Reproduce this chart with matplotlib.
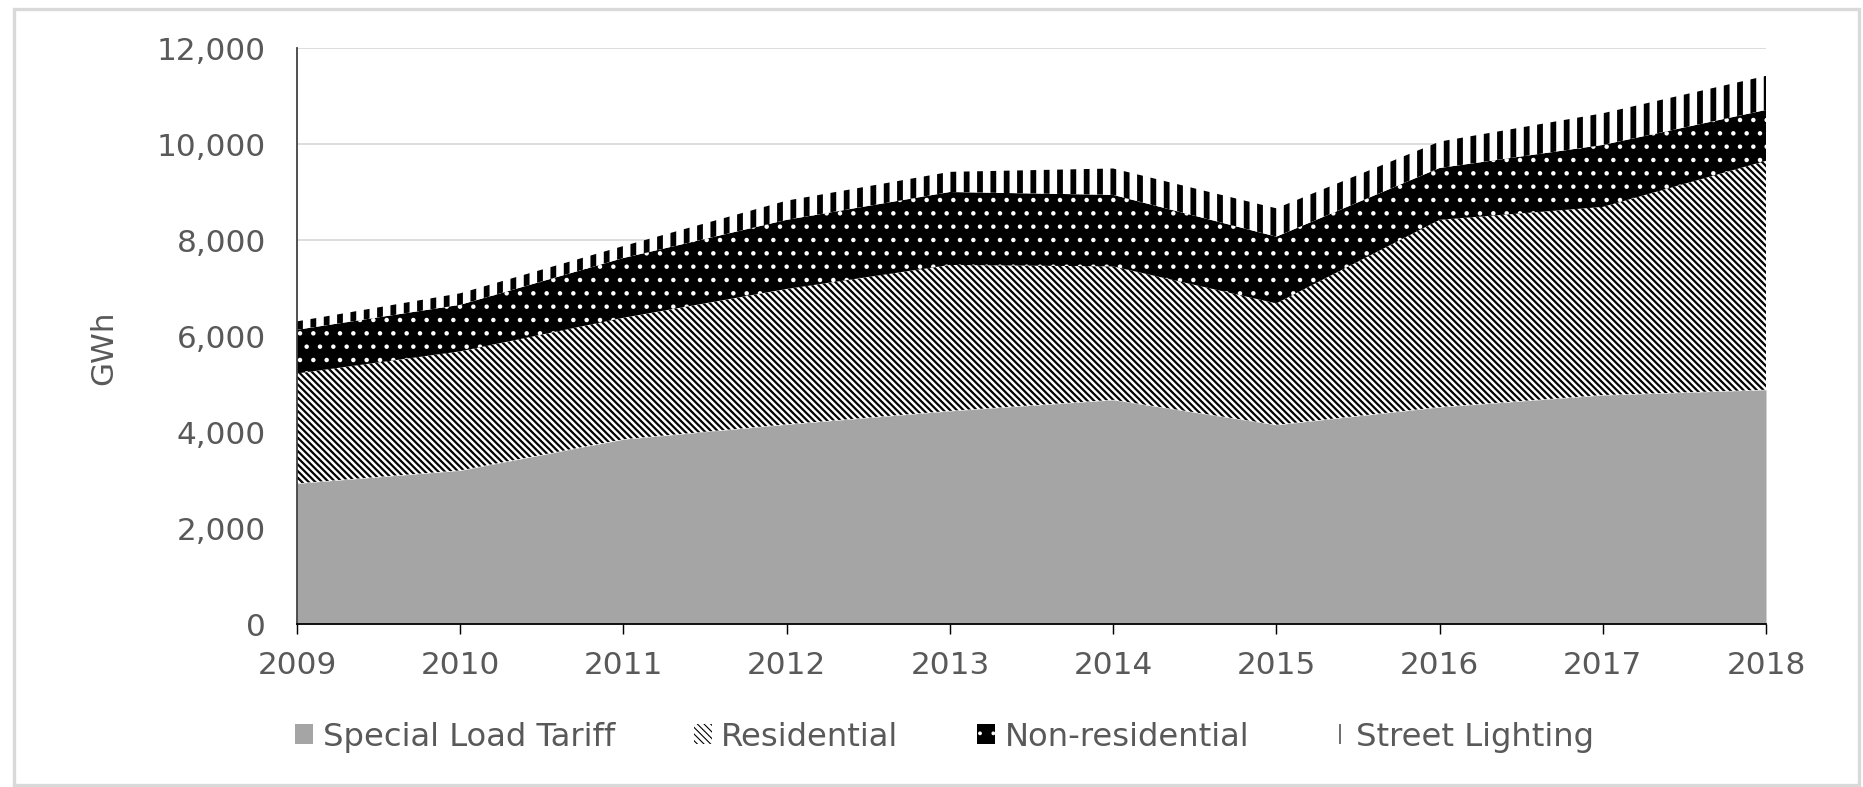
import matplotlib
matplotlib.use("Agg")
import matplotlib.pyplot as plt
from matplotlib.patches import Patch, Rectangle
import numpy as np

years = [2009, 2010, 2011, 2012, 2013, 2014, 2015, 2016, 2017, 2018]
special_load = [2930, 3200, 3850, 4160, 4440, 4670, 4150, 4520, 4770, 4880]
residential = [2290, 2480, 2530, 2820, 3040, 2780, 2530, 3900, 3920, 4770]
non_residential = [910, 970, 1245, 1440, 1520, 1490, 1390, 1080, 1290, 1060]
street_lighting = [175, 240, 250, 400, 420, 550, 590, 550, 660, 710]
series_names = ["Special Load Tariff", "Residential", "Non-residential", "Street Lighting"]
y_ticks = [0, 2000, 4000, 6000, 8000, 10000, 12000]

text_col = "#595959"
fs = 28
legend_fs = 29

# fill / hatch per series: facecolor, hatch colour, hatch, hatch linewidth
styles = [
    ("#a5a5a5", "#a5a5a5", None, 1.0),
    ("white", "black", "\\\\\\\\", 2.0),
    ("black", "white", ".", 1.6),
    ("white", "black", "|", 5.2),
]

DPI = 80
fig = plt.figure(figsize=(1863 / DPI, 787 / DPI), dpi=DPI)
ax = fig.add_axes([297 / 1863, 1 - 624 / 787, (1766 - 297) / 1863, 576 / 787])

data = np.array([special_load, residential, non_residential, street_lighting], dtype=float)
tops = np.cumsum(data, axis=0)
bottoms = np.vstack([np.zeros(len(years)), tops[:-1]])

handles = []
for i, (fc, hc, hatch, hlw) in enumerate(styles):
    with plt.rc_context({"hatch.linewidth": hlw}):
        p = ax.fill_between(years, bottoms[i], tops[i], facecolor=fc, edgecolor=hc,
                            hatch=hatch, linewidth=0, zorder=2)
        h = Patch(facecolor=fc, edgecolor=hc, hatch=hatch, linewidth=0, label=series_names[i])
    if hasattr(p, "set_hatch_linewidth"):
        p.set_hatch_linewidth(hlw)
        h.set_hatch_linewidth(hlw)
    handles.append(h)

ax.set_xlim(2009, 2018)
ax.set_ylim(0, 12000)
ax.set_xticks(years)
ax.set_yticks(y_ticks)
ax.set_yticklabels([f"{v:,}" for v in y_ticks])
ax.set_axisbelow(True)
ax.yaxis.grid(True, color="#d9d9d9", linewidth=1.6)

for s in ["top", "right"]:
    ax.spines[s].set_visible(False)
ax.spines["left"].set_color("#404040")
ax.spines["left"].set_linewidth(1.6)
ax.spines["bottom"].set_color("black")
ax.spines["bottom"].set_linewidth(1.6)
ax.spines["left"].set_zorder(3)
ax.spines["bottom"].set_zorder(3)

ax.tick_params(axis="y", length=0, pad=28, labelsize=fs, labelcolor=text_col)
ax.tick_params(axis="x", length=9, width=1.3, color="black", pad=15,
               labelsize=fs, labelcolor=text_col)

ax.set_ylabel("GWh", fontsize=fs, color=text_col)
ax.yaxis.set_label_coords(-0.122, 0.48)

fig.legend(handles=handles, loc="center", bbox_to_anchor=(0.507, 0.0635), ncol=4,
           frameon=False, fontsize=legend_fs, labelcolor=text_col, handlelength=0.55,
           handleheight=0.55, handletextpad=0.3, columnspacing=2.45)

# outer chart border
fig.patches.append(Rectangle((14 / 1863, 2 / 787), 1845 / 1863, 776 / 787,
                             transform=fig.transFigure, fill=False,
                             edgecolor="#d9d9d9", linewidth=3))

fig.savefig("out.png", dpi=DPI)
